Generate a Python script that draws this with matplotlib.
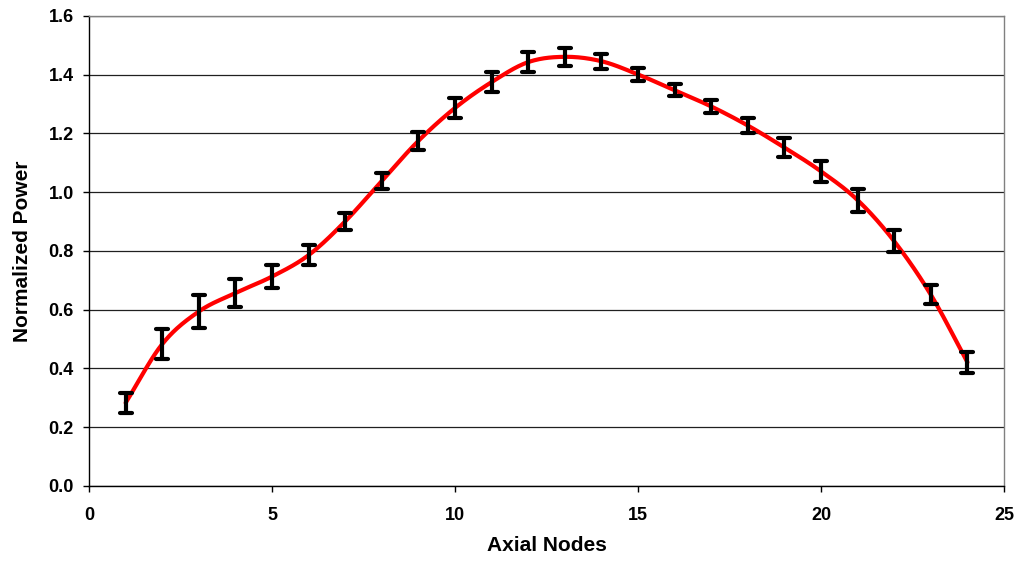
import numpy as np
import matplotlib.pyplot as plt
from matplotlib.markers import MarkerStyle

# axial node power profile with uncertainty
nodes = list(range(1, 25))
power = [0.283, 0.483, 0.594, 0.657, 0.713, 0.786, 0.901, 1.039, 1.175, 1.287,
         1.375, 1.443, 1.461, 1.446, 1.401, 1.347, 1.292, 1.227, 1.152, 1.071,
         0.973, 0.833, 0.651, 0.421]
power_err = [0.035, 0.052, 0.055, 0.049, 0.039, 0.035, 0.030, 0.028, 0.030, 0.035,
             0.033, 0.035, 0.031, 0.026, 0.023, 0.020, 0.021, 0.027, 0.031, 0.036,
             0.039, 0.037, 0.032, 0.036]

x_ticks = [0, 5, 10, 15, 20, 25]
y_ticks = [0.0, 0.2, 0.4, 0.6, 0.8, 1.0, 1.2, 1.4, 1.6]


def catmull_rom(x, y, n=30):
    """Smooth curve passing through every (x, y) point."""
    x = np.asarray(x, float)
    y = np.asarray(y, float)
    px = np.concatenate([[2 * x[0] - x[1]], x, [2 * x[-1] - x[-2]]])
    py = np.concatenate([[2 * y[0] - y[1]], y, [2 * y[-1] - y[-2]]])
    t = np.linspace(0, 1, n, endpoint=False)
    xs, ys = [], []
    for i in range(1, len(px) - 2):
        for p, out in ((px, xs), (py, ys)):
            p0, p1, p2, p3 = p[i - 1], p[i], p[i + 1], p[i + 2]
            out.append(0.5 * (2 * p1 + (-p0 + p2) * t
                              + (2 * p0 - 5 * p1 + 4 * p2 - p3) * t ** 2
                              + (-p0 + 3 * p1 - 3 * p2 + p3) * t ** 3))
    xs.append([x[-1]])
    ys.append([y[-1]])
    return np.concatenate(xs), np.concatenate(ys)


plt.rcParams['font.family'] = ['Liberation Sans', 'DejaVu Sans']

fig = plt.figure(figsize=(10.21, 5.63), dpi=100)
ax = fig.add_axes([0.0872, 0.1368, 0.8962, 0.8348])

ax.set_xlim(0, 25)
ax.set_ylim(0, 1.6)
ax.set_xticks(x_ticks)
ax.set_yticks(y_ticks)
ax.set_yticklabels([f"{v:.1f}" for v in y_ticks])
ax.grid(axis='y', color='#202020', linewidth=0.9)
ax.set_axisbelow(True)

sx, sy = catmull_rom(nodes, power)
ax.plot(sx, sy, color='red', linewidth=3, solid_capstyle='round', zorder=2)
_, caps, bars = ax.errorbar(nodes, power, yerr=power_err, fmt='none',
                            ecolor='black', elinewidth=3.0, capsize=4.5,
                            capthick=3.0, zorder=3)
for cap in caps:
    cap.set_marker(MarkerStyle('_', capstyle='round'))
for coll in bars:
    coll.set_capstyle('butt')

for side in ('left', 'bottom'):
    ax.spines[side].set_color('black')
    ax.spines[side].set_linewidth(1.0)
for side in ('right', 'top'):
    ax.spines[side].set_color('#808080')
    ax.spines[side].set_linewidth(1.0)

ax.tick_params(axis='both', direction='out', length=4.5, width=1.0,
               labelsize=13, colors='black')
ax.tick_params(axis='y', pad=6.5)
ax.tick_params(axis='x', pad=10.5)
for lbl in ax.get_xticklabels() + ax.get_yticklabels():
    lbl.set_fontweight('bold')

ax.set_xlabel('Axial Nodes', fontsize=15, fontweight='bold', labelpad=9)
ax.set_ylabel('Normalized Power', fontsize=15, fontweight='bold', labelpad=12)

fig.savefig('out.png', dpi=100)
